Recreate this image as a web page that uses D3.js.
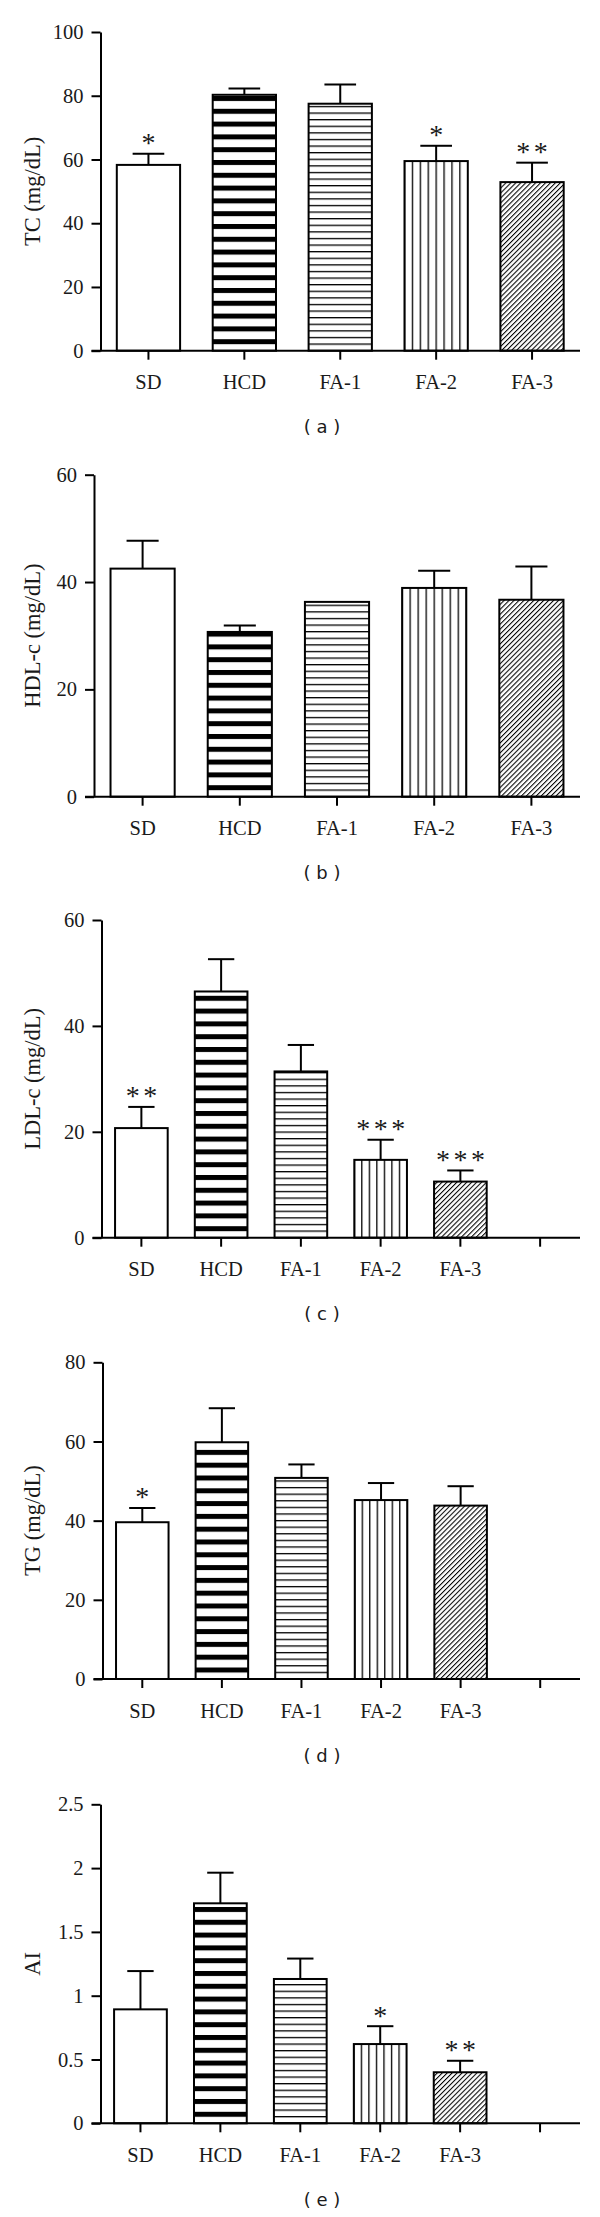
<!DOCTYPE html>
<html>
<head>
<meta charset="utf-8">
<script src="https://cdn.jsdelivr.net/npm/d3@7"></script>
<style>
  html, body { margin: 0; padding: 0; background: #fff; }
  svg { display: block; }
</style>
</head>
<body>
<div id="chart"></div>
<script>
// ---------------- data ----------------
const groups = ["SD", "HCD", "FA-1", "FA-2", "FA-3"];
const groupsWithGap = ["SD", "HCD", "FA-1", "FA-2", "FA-3", " "];

const tcMean  = [58.3, 80.3, 77.5, 59.5, 52.9];
const tcSem   = [3.5, 2.0, 6.0, 4.8, 6.1];
const tcSig   = ["*", "", "", "*", "**"];
const tcTicks = [0, 20, 40, 60, 80, 100];

const hdlMean  = [42.5, 30.7, 36.3, 38.9, 36.7];
const hdlSem   = [5.2, 1.2, 0, 3.2, 6.2];
const hdlSig   = ["", "", "", "", ""];
const hdlTicks = [0, 20, 40, 60];

const ldlMean  = [20.7, 46.5, 31.4, 14.7, 10.6];
const ldlSem   = [4.0, 6.1, 5.0, 3.8, 2.1];
const ldlSig   = ["**", "", "", "***", "***"];
const ldlTicks = [0, 20, 40, 60];

const tgMean  = [39.6, 59.8, 50.8, 45.2, 43.8];
const tgSem   = [3.6, 8.6, 3.4, 4.3, 4.9];
const tgSig   = ["*", "", "", "", ""];
const tgTicks = [0, 20, 40, 60, 80];

const aiMean  = [0.893, 1.724, 1.131, 0.621, 0.40];
const aiSem   = [0.30, 0.24, 0.16, 0.14, 0.09];
const aiSig   = ["", "", "", "*", "**"];
const aiTicks = [0, 0.5, 1, 1.5, 2, 2.5];

const yTitles = ["TC (mg/dL)", "HDL-c (mg/dL)", "LDL-c (mg/dL)", "TG (mg/dL)", "AI"];
const panelTags = ["( a )", "( b )", "( c )", "( d )", "( e )"];

// ---------------- layout ----------------
const W = 600, H = 2217;
const panels = [
  { cats: groups,        mean: tcMean,  sem: tcSem,  sig: tcSig,  ticks: tcTicks,  top: 32,     zero: 350.7,  ax: 100.5 },
  { cats: groups,        mean: hdlMean, sem: hdlSem, sig: hdlSig, ticks: hdlTicks, top: 474.7,  zero: 796.7,  ax: 94 },
  { cats: groupsWithGap, mean: ldlMean, sem: ldlSem, sig: ldlSig, ticks: ldlTicks, top: 920,    zero: 1237.7, ax: 101.5 },
  { cats: groupsWithGap, mean: tgMean,  sem: tgSem,  sig: tgSig,  ticks: tgTicks,  top: 1362.3, zero: 1679,   ax: 102.5 },
  { cats: groupsWithGap, mean: aiMean,  sem: aiSem,  sig: aiSig,  ticks: aiTicks,  top: 1804.3, zero: 2123.3, ax: 100.5 }
];
const xRight = 580;
const ink = "#1a1a1a";
const serif = "'Liberation Serif', 'Times New Roman', serif";

const svg = d3.select("#chart").append("svg")
  .attr("width", W).attr("height", H)
  .attr("viewBox", `0 0 ${W} ${H}`);
svg.append("rect").attr("width", W).attr("height", H).attr("fill", "#fff");
const defs = svg.append("defs");

panels.forEach((p, pi) => {
  const x = d3.scaleBand().domain(p.cats).range([p.ax, xRight])
    .paddingInner(0.34).paddingOuter(0.17);
  const yMax = p.ticks[p.ticks.length - 1];
  const y = d3.scaleLinear().domain([0, yMax]).range([p.zero, p.top]);
  const bw = x.bandwidth();
  const g = svg.append("g");

  // ---- patterns ----
  const per1 = 12.8;
  const pH = defs.append("pattern").attr("id", `hcd${pi}`)
    .attr("patternUnits", "userSpaceOnUse")
    .attr("x", 0).attr("y", p.zero - 9 - 2.5)
    .attr("width", 10).attr("height", per1);
  pH.append("rect").attr("width", 10).attr("height", per1).attr("fill", "#fff");
  pH.append("rect").attr("width", 10).attr("height", 5).attr("fill", "#000");

  const per2 = 6.6;
  const pF1 = defs.append("pattern").attr("id", `fa1${pi}`)
    .attr("patternUnits", "userSpaceOnUse")
    .attr("x", 0).attr("y", p.zero - 0.65)
    .attr("width", 10).attr("height", per2);
  pF1.append("rect").attr("width", 10).attr("height", per2).attr("fill", "#fff");
  pF1.append("rect").attr("width", 10).attr("height", 1.3).attr("fill", "#000");

  const nDiv = Math.round(bw / 8);
  const per3 = bw / nDiv;
  const pF2 = defs.append("pattern").attr("id", `fa2${pi}`)
    .attr("patternUnits", "userSpaceOnUse")
    .attr("x", x(groups[3]) - 0.65).attr("y", 0)
    .attr("width", per3).attr("height", 10);
  pF2.append("rect").attr("width", per3).attr("height", 10).attr("fill", "#fff");
  pF2.append("rect").attr("width", 1.3).attr("height", 10).attr("fill", "#000");

  const pF3 = defs.append("pattern").attr("id", `fa3${pi}`)
    .attr("patternUnits", "userSpaceOnUse")
    .attr("width", 3.5).attr("height", 10)
    .attr("patternTransform", "rotate(45)");
  pF3.append("rect").attr("width", 3.5).attr("height", 10).attr("fill", "#fff");
  pF3.append("rect").attr("width", 1.05).attr("height", 10).attr("fill", "#000");

  const fills = ["#fff", `url(#hcd${pi})`, `url(#fa1${pi})`, `url(#fa2${pi})`, `url(#fa3${pi})`];

  const data = groups.map((c, i) => ({ c, m: p.mean[i], s: p.sem[i], sig: p.sig[i], fill: fills[i] }));

  // ---- bars ----
  g.selectAll("rect.bar").data(data).enter().append("rect")
    .attr("class", "bar")
    .attr("x", d => x(d.c))
    .attr("y", d => y(d.m))
    .attr("width", bw)
    .attr("height", d => y(0) - y(d.m))
    .attr("fill", d => d.fill)
    .attr("stroke", "#000").attr("stroke-width", 2);

  // ---- error bars ----
  const eb = data.filter(d => d.s > 0);
  g.selectAll("line.ev").data(eb).enter().append("line")
    .attr("x1", d => x(d.c) + bw / 2).attr("x2", d => x(d.c) + bw / 2)
    .attr("y1", d => y(d.m)).attr("y2", d => y(d.m + d.s))
    .attr("stroke", "#000").attr("stroke-width", 2);
  g.selectAll("line.ec").data(eb).enter().append("line")
    .attr("x1", d => x(d.c) + bw / 4).attr("x2", d => x(d.c) + bw * 3 / 4)
    .attr("y1", d => y(d.m + d.s)).attr("y2", d => y(d.m + d.s))
    .attr("stroke", "#000").attr("stroke-width", 2);

  // ---- significance stars ----
  const starSpacing = 17.5;
  data.filter(d => d.sig).forEach(d => {
    const k = d.sig.length;
    const cx = x(d.c) + bw / 2;
    const ty = y(d.m + d.s) - 1.5;
    for (let j = 0; j < k; j++) {
      g.append("text")
        .attr("x", cx + (j - (k - 1) / 2) * starSpacing)
        .attr("y", ty)
        .attr("text-anchor", "middle")
        .attr("font-family", serif).attr("font-size", 28)
        .attr("fill", ink)
        .text("*");
    }
  });

  // ---- axes ----
  const yAxis = d3.axisLeft(y).tickValues(p.ticks).tickSize(9).tickSizeOuter(0)
    .tickPadding(8).tickFormat(d => String(d));
  const ga = g.append("g").attr("transform", `translate(${p.ax},0)`).call(yAxis);
  ga.select(".domain").attr("stroke", "#000").attr("stroke-width", 2);
  ga.selectAll(".tick line").attr("stroke", "#000").attr("stroke-width", 2);
  ga.selectAll(".tick text").attr("font-family", serif).attr("font-size", 20.5).attr("fill", ink);

  const xAxis = d3.axisBottom(x).tickSize(9).tickSizeOuter(0).tickPadding(15);
  const gx = g.append("g").attr("transform", `translate(0,${p.zero})`).call(xAxis);
  gx.select(".domain").remove();
  gx.append("line").attr("x1", p.ax - 9).attr("x2", xRight).attr("y1", 0).attr("y2", 0)
    .attr("stroke", "#000").attr("stroke-width", 2);
  gx.selectAll(".tick line").attr("stroke", "#000").attr("stroke-width", 2);
  gx.selectAll(".tick text").attr("font-family", serif).attr("font-size", 20.5).attr("fill", ink);

  // ---- y title ----
  g.append("text")
    .attr("transform", `translate(40,${(p.top + p.zero) / 2}) rotate(-90)`)
    .attr("text-anchor", "middle")
    .attr("font-family", serif).attr("font-size", 22.5).attr("fill", ink)
    .text(yTitles[pi]);

  // ---- panel tag ----
  g.append("text")
    .attr("x", 322).attr("y", p.zero + 82.6)
    .attr("text-anchor", "middle")
    .attr("font-family", "'DejaVu Sans', sans-serif").attr("font-size", 18).attr("fill", ink)
    .text(panelTags[pi]);
});
</script>
</body>
</html>
